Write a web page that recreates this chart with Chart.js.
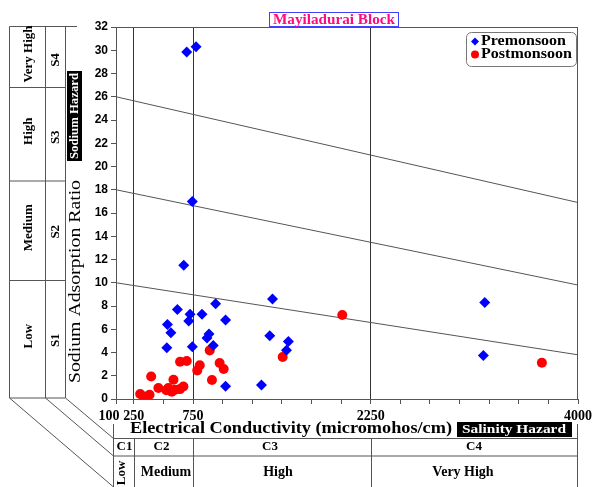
<!DOCTYPE html>
<html>
<head>
<meta charset="utf-8">
<script src="https://cdn.jsdelivr.net/npm/chart.js@4.4.0/dist/chart.umd.min.js"></script>
<style>
  html, body { margin: 0; padding: 0; background: #fff; }
  #wrap { position: relative; width: 596px; height: 487px; }
</style>
</head>
<body>
<div id="wrap"><canvas id="ussl"></canvas></div>
<script>
// USSL salinity diagram - Mayiladurai Block

const preEC  = [697, 776, 744, 672, 618, 725, 714, 826, 941, 1025, 1421, 534, 563, 529, 744, 885, 868, 921, 1398, 1555, 1539, 1025, 1328, 3213, 3201];
const preSAR = [29.85, 30.3, 17.0, 11.5, 7.7, 7.3, 6.7, 7.3, 8.2, 6.8, 8.6, 6.4, 5.7, 4.4, 4.5, 5.6, 5.25, 4.6, 5.45, 4.95, 4.2, 1.1, 1.2, 8.3, 3.75];

const postEC  = [304, 332, 383, 397, 458, 525, 542, 571, 585, 599, 640, 669, 641, 697, 807, 786, 891, 975, 1009, 910, 1507, 2010, 3695];
const postSAR = [0.43, 0.22, 0.37, 1.94, 0.95, 0.75, 0.95, 0.62, 1.66, 0.8, 0.85, 1.08, 3.2, 3.27, 2.9, 2.46, 4.18, 3.1, 2.58, 1.63, 3.61, 7.23, 3.12];

// sodium hazard boundaries, SAR at EC = 100 and EC = 4000
const boundaryEC = [100, 4000];
const s1s2 = [10, 3.8];
const s2s3 = [18, 9.8];
const s3s4 = [26, 16.9];

// salinity class limits and labelled x ticks
const ecLimits = [250, 750, 2250];
const xLabels = [100, 250, 750, 2250, 4000];

const sodiumClass = ['Low', 'Medium', 'High', 'Very High'];
const sodiumCode = ['S1', 'S2', 'S3', 'S4'];
const salinityCode = ['C1', 'C2', 'C3', 'C4'];
const salinityClass = ['Low', 'Medium', 'High', 'Very High'];

const SERIF = '"Liberation Serif", "Times New Roman", serif';

function toPoints(xs, ys) {
    return xs.map((x, i) => ({ x: x, y: ys[i] }));
}

function line(ctx, x1, y1, x2, y2) {
    ctx.beginPath();
    ctx.moveTo(x1, y1);
    ctx.lineTo(x2, y2);
    ctx.stroke();
}

// centred text, optionally rotated and stretched to a width
function label(ctx, str, cx, cy, o) {
    ctx.save();
    ctx.font = (o.bold === false ? '' : 'bold ') + o.size + 'px ' + SERIF;
    ctx.fillStyle = o.color || '#000';
    ctx.textAlign = o.align || 'center';
    ctx.textBaseline = 'middle';
    ctx.translate(cx, cy);
    if (o.rot) ctx.rotate(-Math.PI / 2);
    if (o.width) {
        const m = ctx.measureText(str).width;
        ctx.scale(o.width / m, 1);
    }
    ctx.fillText(str, 0, 0);
    ctx.restore();
}

const decor = {
    id: 'decor',
    afterDraw(chart) {
        const ctx = chart.ctx;
        const a = chart.chartArea;
        const xs = chart.scales.x;
        ctx.save();
        ctx.lineWidth = 1;
        ctx.strokeStyle = '#555';

        // top and right frame of the plot
        line(ctx, a.left, a.top + 0.5, a.right, a.top + 0.5);
        line(ctx, a.right - 0.5, a.top, a.right - 0.5, a.bottom);

        // title box
        ctx.fillStyle = '#fff';
        ctx.fillRect(269.5, 12.5, 129, 14);
        ctx.strokeStyle = '#4040ff';
        ctx.strokeRect(269.5, 12.5, 129, 14);
        label(ctx, 'Mayiladurai Block', 334, 20, { size: 14, color: '#ff0a84', width: 122 });

        // legend
        ctx.strokeStyle = '#777';
        ctx.beginPath();
        ctx.roundRect(466.5, 32.5, 110, 34, 5);
        ctx.stroke();
        const ds = chart.data.datasets;
        [0, 1].forEach(i => {
            const y = 41.5 + i * 13;
            ctx.fillStyle = ds[i].backgroundColor;
            Chart.helpers.drawPoint(ctx, { pointStyle: ds[i].pointStyle, radius: 4, rotation: 0, borderWidth: 0 }, 475, y);
            label(ctx, ds[i].label, 481, y, { size: 14, align: 'left', width: i ? 91 : 85 });
        });

        // left table (sodium hazard)
        ctx.strokeStyle = '#555';
        const rows = [398, 280.5, 181, 87.5, 26.5];
        [9.5, 45.5, 65.5].forEach(x => line(ctx, x, 26.5, x, 398));
        line(ctx, 9.5, 26.5, 77, 26.5);
        rows.slice(0, 4).forEach(y => line(ctx, 9.5, y, 65.5, y));
        const txtOff = [[-3, -1], [-3, -1], [-3, 1], [-3, 1]];
        for (let i = 0; i < 4; i++) {
            const mid = (rows[i] + rows[i + 1]) / 2;
            label(ctx, sodiumClass[i], 29, mid + txtOff[i][0], { size: 13, rot: true });
            label(ctx, sodiumCode[i], 56, mid + txtOff[i][1] + 2, { size: 13, rot: true });
        }

        // y axis title and sodium hazard box
        label(ctx, 'Sodium Adsorption Ratio', 76, 281.5, { size: 17, bold: false, rot: true, width: 203 });
        ctx.fillStyle = '#000';
        ctx.fillRect(67, 71, 15, 90);
        label(ctx, 'Sodium Hazard', 75, 116, { size: 13, rot: true, color: '#fff', width: 86 });

        // x axis title and salinity hazard box
        label(ctx, 'Electrical Conductivity (micromohos/cm)', 291, 428.5, { size: 16, width: 322 });
        ctx.fillStyle = '#000';
        ctx.fillRect(457, 422, 115, 15);
        label(ctx, 'Salinity Hazard', 514, 429.5, { size: 13, color: '#fff', width: 104 });

        // bottom table (salinity hazard)
        ctx.strokeStyle = '#555';
        const tl = 113.5, tr = a.right - 0.5;
        line(ctx, tl, 424, tl, 487);
        line(ctx, tr, 424, tr, 487);
        line(ctx, tl, 438.5, tr, 438.5);
        line(ctx, tl, 456, tr, 456);
        const cols = [tl].concat(ecLimits.map(v => Math.round(xs.getPixelForValue(v)) + 0.5), tr);
        ecLimits.forEach((v, i) => line(ctx, cols[i + 1], 438.5, cols[i + 1], 487));
        const codeX = [124.5, 161.5, 270, 474];
        const classX = [null, 166, 278, 463];
        for (let i = 0; i < 4; i++) {
            label(ctx, salinityCode[i], codeX[i], 447, { size: 13 });
            if (i === 0) label(ctx, salinityClass[0], 122, 473, { size: 13, rot: true });
            else label(ctx, salinityClass[i], classX[i], 472, { size: 14 });
        }

        // folding diagonals between the two tables
        line(ctx, 9.5, 398, 113.5, 487);
        line(ctx, 45.5, 398, 113.5, 456);
        line(ctx, 65.5, 398, 113.5, 438.5);

        ctx.restore();
    }
};

const boundaryStyle = {
    type: 'line',
    showLine: true,
    borderColor: '#555',
    borderWidth: 1,
    pointRadius: 0,
    fill: false
};

new Chart(document.getElementById('ussl'), {
    type: 'scatter',
    data: {
        datasets: [
            {
                label: 'Premonsoon',
                data: toPoints(preEC, preSAR),
                pointStyle: 'rectRot',
                pointRadius: 5.5,
                backgroundColor: '#0000ff',
                borderColor: '#0000ff',
                borderWidth: 0
            },
            {
                label: 'Postmonsoon',
                data: toPoints(postEC, postSAR),
                pointStyle: 'circle',
                pointRadius: 5,
                backgroundColor: '#ff0000',
                borderColor: '#ff0000',
                borderWidth: 0
            },
            Object.assign({ label: 'S1/S2', data: toPoints(boundaryEC, s1s2) }, boundaryStyle),
            Object.assign({ label: 'S2/S3', data: toPoints(boundaryEC, s2s3) }, boundaryStyle),
            Object.assign({ label: 'S3/S4', data: toPoints(boundaryEC, s3s4) }, boundaryStyle)
        ]
    },
    options: {
        responsive: true,
        maintainAspectRatio: false,
        animation: false,
        layout: { padding: { top: 27, right: 17, left: 0, bottom: 0 } },
        plugins: {
            legend: { display: false },
            tooltip: { enabled: false }
        },
        scales: {
            x: {
                type: 'linear',
                min: 100,
                max: 4000,
                afterBuildTicks: axis => {
                    const t = [100];
                    for (let v = 250; v <= 4000; v += 250) t.push(v);
                    axis.ticks = t.map(v => ({ value: v }));
                },
                afterFit: axis => { axis.height = 88; },
                ticks: {
                    autoSkip: false,
                    maxRotation: 0,
                    padding: 4,
                    color: '#000',
                    font: { family: SERIF, size: 14, weight: 'bold' },
                    // the first label sits left of the axis start, as in the source
                    callback: v => v === 100 ? '100\u00a0\u00a0\u00a0\u00a0' : (xLabels.includes(v) ? String(v) : '')
                },
                grid: {
                    color: c => c.tick && ecLimits.includes(c.tick.value) ? '#333' : 'rgba(0,0,0,0)',
                    tickColor: '#555',
                    tickLength: 5,
                    lineWidth: 1
                },
                border: { color: '#555' }
            },
            y: {
                min: 0,
                max: 32,
                afterFit: axis => { axis.width = 116; },
                ticks: {
                    stepSize: 2,
                    padding: 3,
                    color: '#000',
                    font: { family: '"Liberation Sans", Arial, sans-serif', size: 12, weight: 'bold' }
                },
                grid: {
                    drawOnChartArea: false,
                    tickColor: '#555',
                    tickLength: 5
                },
                border: { color: '#555' }
            }
        }
    },
    plugins: [decor]
});
</script>
</body>
</html>
